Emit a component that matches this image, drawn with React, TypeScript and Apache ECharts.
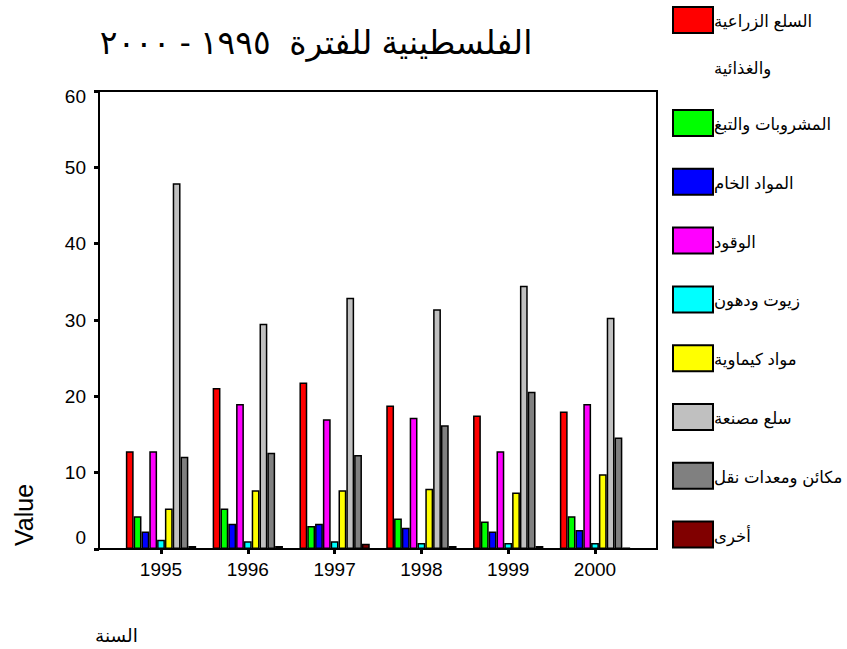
import { useEffect, useRef } from 'react';
import * as echarts from 'echarts';

const years = ['1995', '1996', '1997', '1998', '1999', '2000'];
const yTicks = [0, 10, 20, 30, 40, 50, 60];

const seriesNames = [
  'السلع الزراعية\nوالغذائية',
  'المشروبات والتبغ',
  'المواد الخام',
  'الوقود',
  'زيوت ودهون',
  'مواد كيماوية',
  'سلع مصنعة',
  'مكائن ومعدات نقل',
  'أخرى',
];
const colors = ['#FF0000', '#00FF00', '#0000FF', '#FF00FF', '#00FFFF', '#FFFF00', '#C0C0C0', '#808080', '#800000'];

const agriculture = [12.8, 21.1, 21.8, 18.8, 17.5, 18.0];
const beverages = [4.3, 5.3, 3.0, 4.0, 3.6, 4.3];
const rawMaterials = [2.3, 3.3, 3.3, 2.8, 2.3, 2.5];
const fuel = [12.8, 19.0, 17.0, 17.2, 12.8, 19.0];
const oils = [1.2, 1.0, 1.0, 0.8, 0.8, 0.8];
const chemicals = [5.3, 7.7, 7.7, 7.9, 7.4, 9.8];
const manufactured = [47.9, 29.5, 32.9, 31.4, 34.5, 30.3];
const machinery = [12.1, 12.6, 12.3, 16.2, 20.6, 14.6];
const other = [0.4, 0.4, 0.7, 0.4, 0.4, 0.2];

const seriesValues = [agriculture, beverages, rawMaterials, fuel, oils, chemicals, manufactured, machinery, other];

const titleText = 'الفلسطينية للفترة  ١٩٩٥ - ٢٠٠٠';
const yName = 'Value';
const xName = 'السنة';

export default function App() {
  const ref = useRef<HTMLDivElement>(null);

  useEffect(() => {
    if (!ref.current) return;
    const chart = echarts.init(ref.current, null, { renderer: 'svg' });
    const font = "'Liberation Sans', Arial, 'DejaVu Sans', sans-serif";

    const graphics: any[] = [];
    seriesNames.forEach((name, i) => {
      const top = i === 0 ? 7 : 110 + (i - 1) * 58.8;
      graphics.push({
        type: 'rect',
        shape: { x: 673, y: top, width: 40, height: 26 },
        style: { fill: colors[i], stroke: '#000', lineWidth: 2 },
      });
      name.split('\n').forEach((line, k) => {
        graphics.push({
          type: 'text',
          x: 714,
          y: top + 14 + k * 47,
          style: { text: line, fontSize: 16.5, fontFamily: font, fill: '#000', align: 'left', verticalAlign: 'middle' },
        });
      });
    });
    graphics.push({
      type: 'text',
      x: 316,
      y: 42,
      style: { text: titleText, fontSize: 33, fontFamily: font, fill: '#000', align: 'center', verticalAlign: 'middle' },
    });
    graphics.push({
      type: 'text',
      x: 24,
      y: 515,
      rotation: Math.PI / 2,
      style: { text: yName, fontSize: 25, fontFamily: font, fill: '#000', align: 'center', verticalAlign: 'middle' },
    });
    graphics.push({
      type: 'text',
      x: 95,
      y: 635,
      style: { text: xName, fontSize: 18.5, fontFamily: font, fill: '#000', align: 'left', verticalAlign: 'middle' },
    });

    const labelBase = { fontSize: 19, fontFamily: font, color: '#000' };

    chart.setOption({
      animation: false,
      backgroundColor: '#fff',
      grid: [
        { left: 99, top: 91, width: 558, height: 458, show: true, borderColor: '#000', borderWidth: 2, backgroundColor: 'transparent' },
        { left: 117.6, top: 91, width: 520.8, height: 458 },
      ],
      xAxis: [
        { gridIndex: 0, type: 'value', min: 0, max: 1, show: false },
        {
          gridIndex: 1,
          type: 'category',
          data: years,
          axisLine: { show: false },
          axisTick: { show: true, alignWithLabel: true, length: 5, lineStyle: { color: '#000', width: 3 } },
          axisLabel: { ...labelBase, margin: 11 },
          splitLine: { show: false },
        },
      ],
      yAxis: [
        {
          gridIndex: 0,
          type: 'value',
          min: yTicks[0],
          max: yTicks[yTicks.length - 1],
          interval: 10,
          axisLine: { show: true, lineStyle: { color: '#000', width: 2 } },
          axisTick: { show: true, length: 5, lineStyle: { color: '#000', width: 3 } },
          splitLine: { show: false },
          axisLabel: {
            ...labelBase,
            margin: 13,
            formatter: (v: number) => (v === 0 ? '{z|0}' : v === 60 ? '{t|60}' : String(v)),
            rich: {
              z: { ...labelBase, padding: [0, 0, 24, 0] },
              t: { ...labelBase, padding: [10, 0, 0, 0] },
            },
          },
        },
        { gridIndex: 1, type: 'value', min: 0, max: 60, interval: 10, show: false },
      ],
      series: seriesValues.map((vals, i) => ({
        name: seriesNames[i],
        type: 'bar',
        xAxisIndex: 1,
        yAxisIndex: 1,
        data: vals,
        barGap: '0%',
        barCategoryGap: '19%',
        itemStyle: { color: colors[i], borderColor: '#000', borderWidth: 1.5 },
      })),
      graphic: graphics,
    });

    return () => chart.dispose();
  }, []);

  return (
    <div
      ref={ref}
      style={{ position: 'fixed', left: 0, top: 0, width: 847, height: 649, background: '#fff' }}
    />
  );
}
